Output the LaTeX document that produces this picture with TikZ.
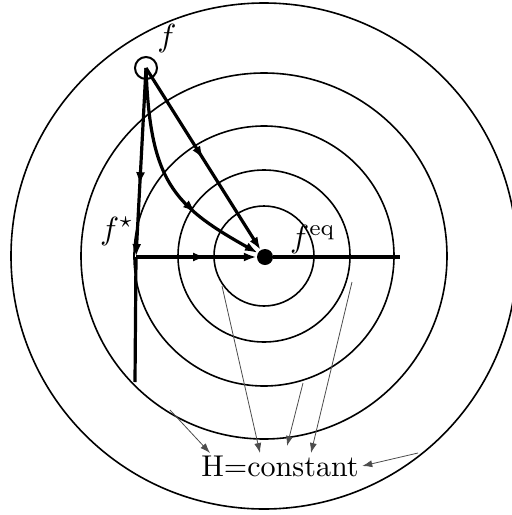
\documentclass[tikz,border=0pt]{standalone}
\usetikzlibrary{arrows.meta,decorations.markings}
\begin{document}
\begin{tikzpicture}[x=1pt,y=-1pt]
\tikzset{
    >={Latex[length=13pt,width=9pt]},
    anel/.style={line width=1.6pt},
    trajeto/.style={line width=3.2pt},
    seta/.style={->, line width=0.8pt, black!70, >={Latex[length=10pt,width=7pt]}},
    meio/.style={postaction={decorate, decoration={markings,
                 mark=at position #1 with {\arrow{>}}}}},
    rotulo/.style={scale=3.2, inner sep=1pt}
}
\useasboundingbox (0,0) rectangle (512,515);
\begin{scope}
\clip (0,0) rectangle (512,515);
\foreach \r in {50,86,130,183,253}
    \draw[anel] (264,256) circle (\r pt);
\end{scope}
\node[draw, circle, line width=2pt, minimum size=22pt, inner sep=0pt] (f) at (146,68) {};
\node[circle, fill, minimum size=16pt, inner sep=0pt] (feq) at (265,257) {};
\coordinate (fstar) at (136,257);
\coordinate (fim)   at (400,257);
\coordinate (base)  at (135,382);
\node[rotulo] (lf)     at (167,38)  {$f$};
\node[rotulo] (lfeq)   at (313,239) {$f^{\mathrm{eq}}$};
\node[rotulo] (lfstar) at (117,231) {$f^{\star}$};
\node[rotulo, scale=0.94] (H) at (280,466) {H=constant};
\draw[trajeto, ->, meio=0.62] (f.center) -- (fstar);
\draw[trajeto, ->, meio=0.5]  (f.center) -- (feq);
\draw[trajeto, ->, meio=0.68] (f.center) .. controls (150,180) and (172,205) .. (feq);
\draw[trajeto, ->, meio=0.58] (fstar) -- (feq);
\draw[trajeto] (feq) -- (fim);
\draw[trajeto] (fstar) -- (base);
% setas para o rotulo H
\coordinate (a1) at (170,410);
\coordinate (a2) at (222,286);
\coordinate (a3) at (303,383);
\coordinate (a4) at (352,282);
\coordinate (a5) at (418,453);
\coordinate (t1) at (210,453);
\coordinate (t2) at (260,453);
\coordinate (t3) at (287,446);
\coordinate (t4) at (311,453);
\draw[seta] (a1) -- (t1);
\draw[seta] (a2) -- (t2);
\draw[seta] (a3) -- (t3);
\draw[seta] (a4) -- (t4);
\draw[seta] (a5) -- (H.east);
\end{tikzpicture}
\end{document}
